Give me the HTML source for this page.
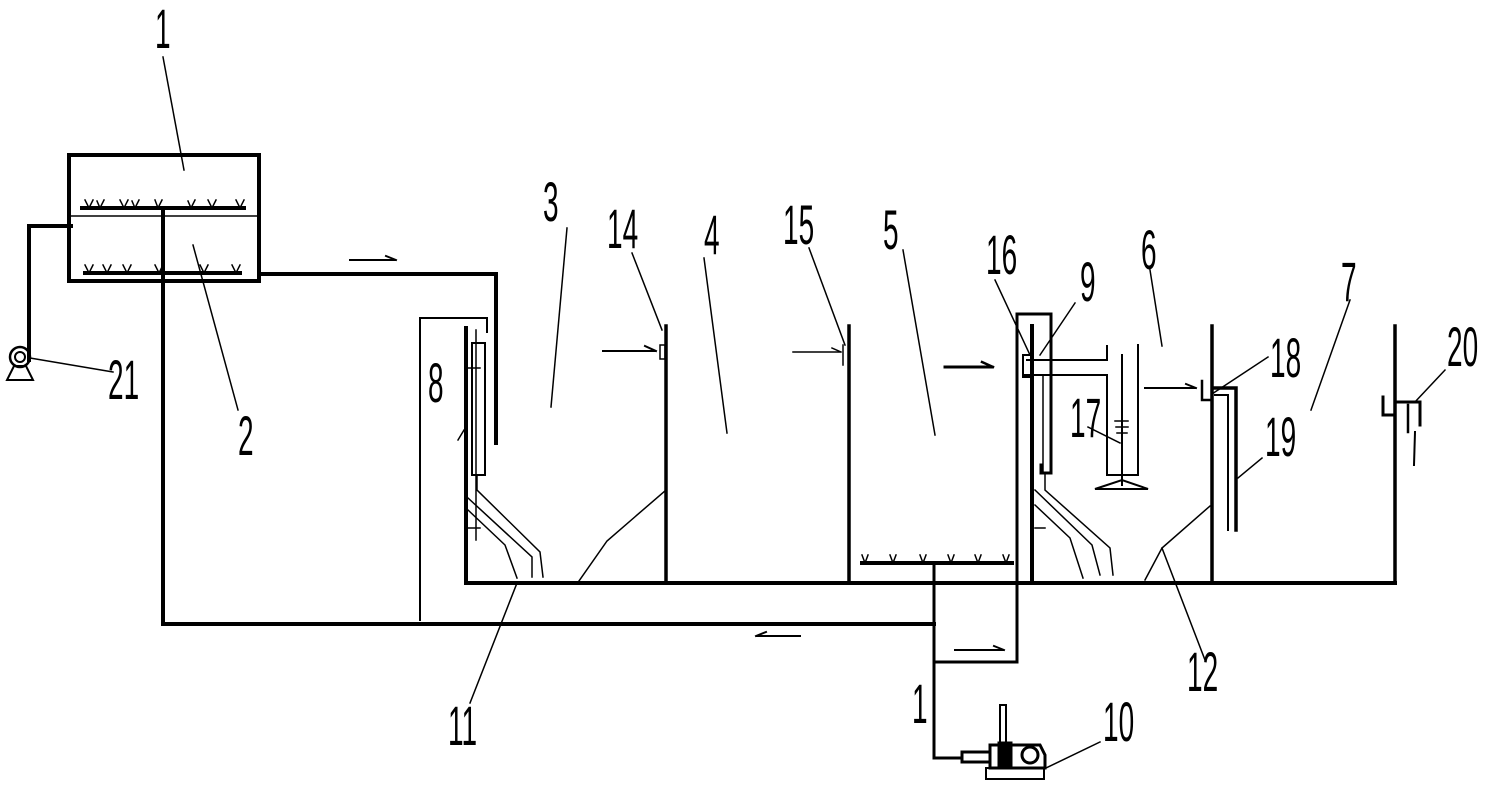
<!DOCTYPE html>
<html><head><meta charset="utf-8"><style>
html,body{margin:0;padding:0;background:#fff;}
svg{display:block;}
text{font-family:"Liberation Sans",sans-serif;font-size:56px;fill:#000;}
</style></head><body>
<svg width="1495" height="790" viewBox="0 0 1495 790" xmlns="http://www.w3.org/2000/svg">
<g fill="none" stroke="#000" stroke-linecap="square">
<rect x="69" y="155" width="190" height="126" stroke-width="4"/>
<line x1="69" y1="216" x2="259" y2="216" stroke-width="1.5"/>
<line x1="82" y1="208" x2="244" y2="208" stroke-width="4"/>
<line x1="85" y1="273" x2="240" y2="273" stroke-width="4"/>
<g stroke-width="1.5">
<path d="M85 200 l4 8 l4 -8 M97 201 l3 7 l4 -8 M120 200 l4 8 l4 -8 M132 201 l3 7 l4 -8 M155 200 l3 8 l4 -8 M188 201 l3 7 l4 -8 M208 200 l4 8 l4 -8 M236 200 l4 8 l4 -8"/>
<path d="M85 265 l4 8 l4 -8 M103 265 l4 8 l4 -8 M123 265 l4 8 l4 -8 M155 265 l4 8 l4 -8 M200 265 l4 8 l4 -8 M232 265 l4 8 l4 -8"/>
</g>
<line x1="163" y1="208" x2="163" y2="624" stroke-width="4"/>
<polyline points="29,360 29,226 71,226" stroke-width="4"/>
<circle cx="20" cy="357" r="10" stroke-width="2.5"/>
<circle cx="20" cy="357" r="5" stroke-width="2"/>
<polygon points="14,366 26,366 33,380 7,380" stroke-width="2"/>
<polyline points="259,274 496,274 496,443" stroke-width="4"/>
<line x1="350" y1="260" x2="395" y2="260" stroke-width="2"/>
<path d="M386 256 L396 260" stroke-width="2"/>
<polyline points="420,620 420,318 487,318 487,332" stroke-width="2"/>
<polyline points="466,328 466,583 1395,583" stroke-width="4"/>
<line x1="666" y1="326" x2="666" y2="583" stroke-width="3.5"/>
<line x1="849" y1="326" x2="849" y2="583" stroke-width="3.5"/>
<line x1="1032" y1="326" x2="1032" y2="583" stroke-width="4"/>
<line x1="1212" y1="326" x2="1212" y2="583" stroke-width="3.5"/>
<line x1="1395" y1="326" x2="1395" y2="583" stroke-width="3.5"/>
<rect x="472" y="343" width="13" height="132" stroke-width="2"/>
<line x1="476" y1="330" x2="476" y2="540" stroke-width="1.5"/>
<line x1="468" y1="368" x2="480" y2="368" stroke-width="1.5"/>
<line x1="468" y1="528" x2="480" y2="528" stroke-width="1.5"/>
<polyline points="477,475 477,490 540,552 543,577" stroke-width="1.5"/>
<polyline points="468,498 532,557 532,577" stroke-width="1.5"/>
<polyline points="468,510 505,545 517,578" stroke-width="1.5"/>
<polyline points="666,490 607,541 579,581" stroke-width="1.5"/>
<rect x="660" y="345" width="5" height="14" stroke-width="1.5"/>
<line x1="843" y1="345" x2="843" y2="365" stroke-width="1.5"/>
<line x1="603" y1="351" x2="655" y2="351" stroke-width="2"/>
<path d="M645 346 L656 351" stroke-width="2"/>
<line x1="793" y1="352" x2="840" y2="352" stroke-width="1.5"/>
<path d="M832 348 L841 352" stroke-width="1.5"/>
<line x1="945" y1="367" x2="992" y2="367" stroke-width="3"/>
<path d="M982 362 L993 367" stroke-width="2.5"/>
<line x1="862" y1="563" x2="1012" y2="563" stroke-width="4"/>
<path d="M862 555 l3 8 l3 -8 M890 555 l3 8 l3 -8 M920 555 l3 8 l3 -8 M948 555 l3 8 l3 -8 M975 555 l3 8 l3 -8 M1003 555 l3 8 l3 -8" stroke-width="1.5"/>
<line x1="934" y1="563" x2="934" y2="758" stroke-width="3"/>
<polyline points="934,662 1017,662 1017,314 1051,314 1051,473 1041,473 1041,465" stroke-width="3"/>
<line x1="1043" y1="375" x2="1043" y2="473" stroke-width="1.5"/>
<line x1="163" y1="624" x2="934" y2="624" stroke-width="4"/>
<line x1="757" y1="636" x2="800" y2="636" stroke-width="2"/>
<path d="M766 632 L756 636" stroke-width="2"/>
<line x1="955" y1="650" x2="1003" y2="650" stroke-width="2"/>
<path d="M994 646 L1004 650" stroke-width="2"/>
<polyline points="934,758 962,758" stroke-width="3"/>
<rect x="986" y="768" width="58" height="11" stroke-width="2"/>
<path d="M990 745 h50 l5 10 v13 h-55 z" stroke-width="3"/>
<circle cx="1030" cy="755" r="8" stroke-width="3"/>
<rect x="962" y="752" width="28" height="10" stroke-width="3"/>
<rect x="1000" y="705" width="6" height="38" stroke-width="2"/>
<rect x="998" y="742" width="14" height="24" fill="#000" stroke-width="1"/>
<polyline points="1027,360 1107,360 1107,346" stroke-width="2"/>
<polyline points="1023,375 1107,375 1107,475 1138,475 1138,345" stroke-width="2"/>
<rect x="1023" y="355" width="9" height="22" stroke-width="2"/>
<line x1="1122" y1="355" x2="1122" y2="485" stroke-width="2"/>
<path d="M1115 421 h13 M1116 427 h12 M1117 433 h10" stroke-width="1.5"/>
<polygon points="1095,489 1122,480 1148,489" stroke-width="2"/>
<polyline points="1045,473 1045,490 1110,548 1113,575" stroke-width="1.5"/>
<polyline points="1035,490 1092,545 1100,575" stroke-width="1.5"/>
<polyline points="1035,505 1070,538 1083,578" stroke-width="1.5"/>
<line x1="1035" y1="528" x2="1045" y2="528" stroke-width="1.5"/>
<polyline points="1210,506 1162,548 1145,580" stroke-width="1.5"/>
<line x1="1145" y1="388" x2="1195" y2="388" stroke-width="2"/>
<path d="M1186 384 L1196 388" stroke-width="2"/>
<polyline points="1202,381 1202,400 1212,400" stroke-width="2.5"/>
<polyline points="1215,388 1236,388 1236,530" stroke-width="3.5"/>
<polyline points="1215,395 1228,395 1228,530" stroke-width="2"/>
<polyline points="1383,397 1383,415 1395,415" stroke-width="3"/>
<polyline points="1395,402 1420,402 1420,425" stroke-width="3"/>
<line x1="1408" y1="405" x2="1408" y2="432" stroke-width="2.5"/>
<line x1="1415" y1="432" x2="1414" y2="465" stroke-width="2"/>
<g stroke-width="1.5">
<line x1="163" y1="57" x2="184" y2="170"/>
<line x1="193" y1="245" x2="238" y2="410"/>
<line x1="30" y1="358" x2="113" y2="372"/>
<line x1="458" y1="440" x2="464" y2="430"/>
<line x1="567" y1="228" x2="551" y2="407"/>
<line x1="632" y1="253" x2="662" y2="330"/>
<line x1="704" y1="258" x2="727" y2="433"/>
<line x1="809" y1="248" x2="845" y2="345"/>
<line x1="903" y1="250" x2="935" y2="435"/>
<line x1="995" y1="280" x2="1030" y2="355"/>
<line x1="1075" y1="303" x2="1040" y2="355"/>
<line x1="1150" y1="270" x2="1162" y2="346"/>
<line x1="1350" y1="300" x2="1311" y2="410"/>
<line x1="1268" y1="357" x2="1212" y2="394"/>
<line x1="1262" y1="458" x2="1238" y2="478"/>
<line x1="1445" y1="370" x2="1415" y2="402"/>
<line x1="1088" y1="427" x2="1120" y2="443"/>
<line x1="1162" y1="548" x2="1205" y2="660"/>
<line x1="470" y1="703" x2="517" y2="583"/>
<line x1="1100" y1="742" x2="1046" y2="768"/>
</g>
</g>
<g>
<text transform="translate(155,48) scale(0.5,1)">1</text>
<text transform="translate(238,455) scale(0.5,1)">2</text>
<text transform="translate(108,399) scale(0.5,1)">21</text>
<text transform="translate(428,402) scale(0.5,1)">8</text>
<text transform="translate(543,221) scale(0.5,1)">3</text>
<text transform="translate(607,248) scale(0.5,1)">14</text>
<text transform="translate(704,254) scale(0.5,1)">4</text>
<text transform="translate(783,244) scale(0.5,1)">15</text>
<text transform="translate(883,249) scale(0.5,1)">5</text>
<text transform="translate(986,274) scale(0.5,1)">16</text>
<text transform="translate(1080,301) scale(0.5,1)">9</text>
<text transform="translate(1141,269) scale(0.5,1)">6</text>
<text transform="translate(1341,301) scale(0.5,1)">7</text>
<text transform="translate(1270,377) scale(0.5,1)">18</text>
<text transform="translate(1265,456) scale(0.5,1)">19</text>
<text transform="translate(1447,366) scale(0.5,1)">20</text>
<text transform="translate(1070,437) scale(0.5,1)">17</text>
<text transform="translate(1187,691) scale(0.5,1)">12</text>
<text transform="translate(448,745) scale(0.5,1)">11</text>
<text transform="translate(912,723) scale(0.5,1)">1</text>
<text transform="translate(1103,741) scale(0.5,1)">10</text>
</g>
</svg>
</body></html>
